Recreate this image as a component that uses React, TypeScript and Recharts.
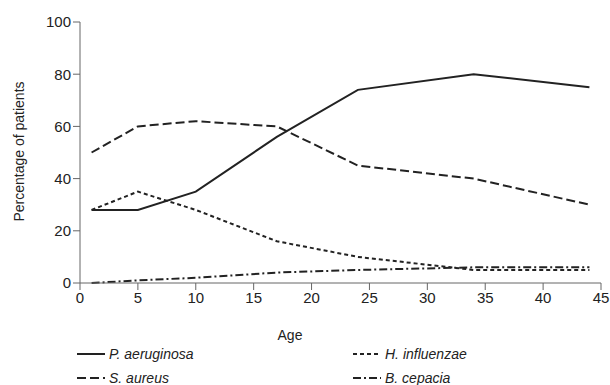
import React from 'react';
import { LineChart, Line, XAxis, YAxis } from 'recharts';

const ages = [1, 5, 10, 17, 24, 34, 44];
const pAeruginosa = [28, 28, 35, 56, 74, 80, 75];
const sAureus = [50, 60, 62, 60, 45, 40, 30];
const hInfluenzae = [28, 35, 28, 16, 10, 5, 5];
const bCepacia = [0, 1, 2, 4, 5, 6, 6];

const xTicks = [0, 5, 10, 15, 20, 25, 30, 35, 40, 45];
const yTicks = [0, 20, 40, 60, 80, 100];

const series = [
  { key: 'pa', name: 'P. aeruginosa', values: pAeruginosa, dash: undefined },
  { key: 'sa', name: 'S. aureus', values: sAureus, dash: '9 4' },
  { key: 'hi', name: 'H. influenzae', values: hInfluenzae, dash: '4 3' },
  { key: 'bc', name: 'B. cepacia', values: bCepacia, dash: '8 3 2 3' },
];

const chartData = ages.map((age, i) => {
  const row: any = { age };
  series.forEach((s) => {
    row[s.key] = s.values[i];
  });
  return row;
});

const FONT = 'Arial, "Liberation Sans", sans-serif';
const INK = '#222';
const AXIS = '#666';

// legend slots: two columns, two rows
const legendPos = [
  { left: 77, top: 354 },
  { left: 77, top: 378 },
  { left: 353, top: 354 },
  { left: 353, top: 378 },
];

const App: React.FC = () => {
  return (
    <div style={{ position: 'absolute', left: 0, top: 0, width: 610, height: 385, overflow: 'hidden', background: '#fff', fontFamily: FONT }}>
      <LineChart width={610} height={385} data={chartData} margin={{ top: 22, right: 9, bottom: 42, left: 0 }}>
        <XAxis
          dataKey="age"
          type="number"
          domain={[0, 45]}
          ticks={xTicks}
          stroke={AXIS}
          tickSize={7}
          tick={{ fill: INK, fontSize: 15, fontFamily: FONT }}
          height={60}
          label={{
            content: (props: any) => {
              const vb = props.viewBox;
              return (
                <text x={290} y={vb.y + 57} textAnchor="middle" fill={INK} fontSize={14} fontFamily={FONT}>
                  Age
                </text>
              );
            },
          }}
        />
        <YAxis
          type="number"
          domain={[0, 100]}
          ticks={yTicks}
          stroke={AXIS}
          tickSize={7}
          width={80}
          tick={{ fill: INK, fontSize: 15, fontFamily: FONT }}
          label={{
            content: (props: any) => {
              const vb = props.viewBox;
              const cy = vb.y + vb.height / 2 - 1;
              return (
                <text
                  x={24}
                  y={cy}
                  transform={`rotate(-90 24 ${cy})`}
                  textAnchor="middle"
                  fill={INK}
                  fontSize={14}
                  fontFamily={FONT}
                >
                  Percentage of patients
                </text>
              );
            },
          }}
        />
        {series.map((s) => (
          <Line
            key={s.key}
            dataKey={s.key}
            name={s.name}
            type="linear"
            stroke={INK}
            strokeWidth={2}
            strokeDasharray={s.dash}
            dot={false}
            activeDot={false}
            isAnimationActive={false}
          />
        ))}
      </LineChart>
      {series.map((s, i) => (
        <div
          key={s.key}
          style={{
            position: 'absolute',
            left: legendPos[i].left,
            top: legendPos[i].top - 8,
            height: 16,
            lineHeight: '16px',
            display: 'flex',
            alignItems: 'center',
            fontSize: 14,
            fontStyle: 'italic',
            color: INK,
            whiteSpace: 'nowrap',
          }}
        >
          <svg width={28} height={16} style={{ marginRight: 4 }}>
            <line x1={0} y1={8} x2={28} y2={8} stroke={INK} strokeWidth={2} strokeDasharray={s.dash} />
          </svg>
          {s.name}
        </div>
      ))}
    </div>
  );
};

export default App;
